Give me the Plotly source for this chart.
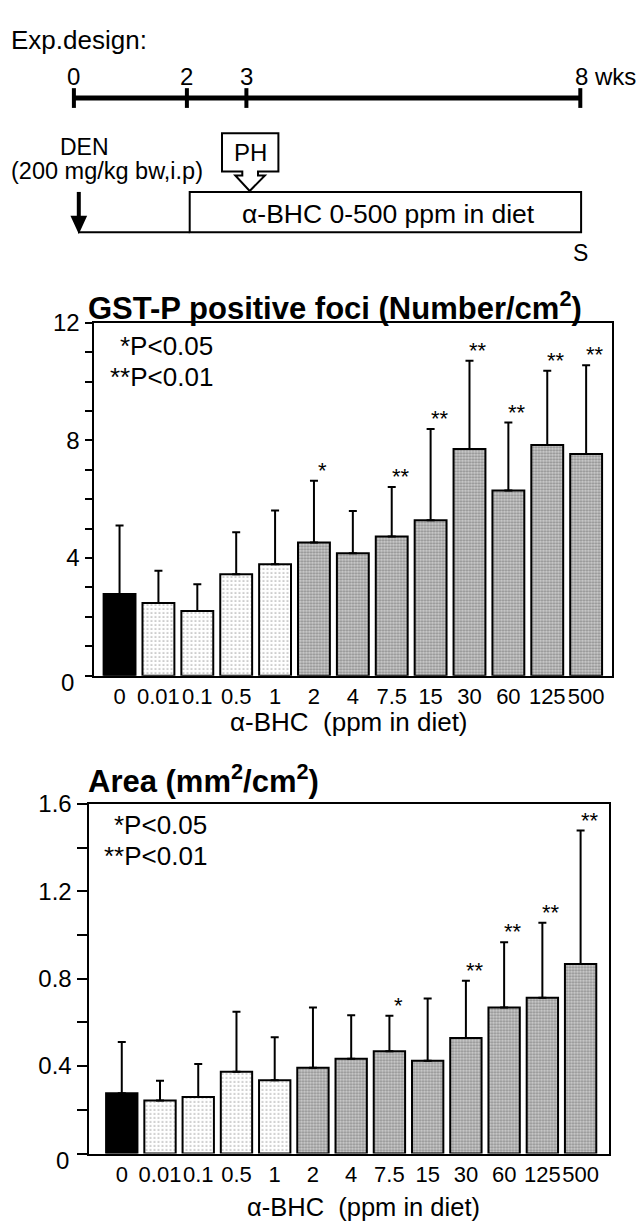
import plotly.graph_objects as go

W, H = 644, 1223

# ---------------- data ----------------
categories = ["0", "0.01", "0.1", "0.5", "1", "2", "4", "7.5", "15", "30", "60", "125", "500"]
dose_group = ["control", "low", "low", "low", "low",
              "high", "high", "high", "high", "high", "high", "high", "high"]

foci_mean = [2.78, 2.47, 2.20, 3.45, 3.79, 4.53, 4.16, 4.73, 5.29, 7.71, 6.30, 7.85, 7.54]
foci_sd = [2.33, 1.10, 0.91, 1.43, 1.83, 2.10, 1.44, 1.69, 3.10, 3.00, 2.31, 2.52, 3.02]
foci_sig = ["", "", "", "", "", "*", "", "**", "**", "**", "**", "**", "**"]

area_mean = [0.276, 0.242, 0.258, 0.374, 0.335, 0.392, 0.434, 0.468, 0.425, 0.528, 0.668, 0.713, 0.867]
area_sd = [0.234, 0.091, 0.152, 0.275, 0.197, 0.276, 0.199, 0.162, 0.284, 0.263, 0.299, 0.343, 0.611]
area_sig = ["", "", "", "", "", "", "", "*", "", "**", "**", "**", "**"]

foci_yticks = [4, 8, 12]
foci_yticktext = ["4", "8", "12"]
area_yticks = [0.4, 0.8, 1.2, 1.6]
area_yticktext = ["0.4", "0.8", "1.2", "1.6"]

timeline_labels = ["0", "2", "3", "8"]

# ---------------- helpers / styles ----------------
FONT = "Liberation Sans, Arial, sans-serif"


def px(x):
    return x / W


def py(y):
    return 1 - y / H


group_style = {
    "control": dict(color="black", shape="", size=4, solidity=0.2),
    "low": dict(color="white", shape=".", size=4, solidity=0.15),
    "high": dict(color="#d0d0d0", shape=".", size=3, solidity=0.45),
}


def bar_trace(mean, sd, xa, ya):
    st = [group_style[g] for g in dose_group]
    return go.Bar(
        x=categories, y=mean, xaxis=xa, yaxis=ya, width=0.82,
        marker=dict(
            color=[s["color"] for s in st],
            line=dict(color="black", width=2),
            pattern=dict(shape=[s["shape"] for s in st],
                         size=[s["size"] for s in st],
                         solidity=[s["solidity"] for s in st],
                         fgcolor="black", fillmode="overlay"),
        ),
        error_y=dict(type="data", array=sd, arrayminus=[0] * len(sd), symmetric=False,
                     color="black", thickness=2, width=4),
        hoverinfo="skip", showlegend=False,
    )


fig = go.Figure()
fig.add_trace(bar_trace(foci_mean, foci_sd, "x", "y"))
fig.add_trace(bar_trace(area_mean, area_sd, "x2", "y2"))

axis_common = dict(showline=True, linecolor="black", linewidth=2, mirror=True,
                   showgrid=False, zeroline=False,
                   tickfont=dict(family=FONT, size=24, color="black"))
xtickfont = dict(family=FONT, size=22, color="black")

fig.update_layout(
    width=W, height=H, margin=dict(l=0, r=0, t=0, b=0, pad=0),
    paper_bgcolor="white", plot_bgcolor="white", barmode="overlay",
    font=dict(family=FONT, color="black"),
    xaxis=dict(domain=[px(93.5), px(611.8)], anchor="y", type="category",
               range=[-0.67, 12.66], ticks="", tickangle=0,
               **{**axis_common, "tickfont": xtickfont}),
    yaxis=dict(domain=[py(669.3), py(312.5)], anchor="x", range=[0, 12],
               tickmode="array", tickvals=foci_yticks, ticktext=foci_yticktext,
               ticks="outside", ticklen=7, tickwidth=2, tickcolor="black",
               minor=dict(dtick=1, tick0=0, ticks="outside", ticklen=7, tickwidth=2,
                          tickcolor="black"),
               **axis_common),
    xaxis2=dict(domain=[px(88.5), px(608.9)], anchor="y2", type="category",
                range=[-0.87, 12.74], ticks="", tickangle=0,
                **{**axis_common, "tickfont": xtickfont}),
    yaxis2=dict(domain=[py(1152.7), py(799)], anchor="x2", range=[0, 1.6],
                tickmode="array", tickvals=area_yticks, ticktext=area_yticktext,
                ticks="outside", ticklen=10, tickwidth=2, tickcolor="black",
                minor=dict(dtick=0.2, tick0=0, ticks="outside", ticklen=10, tickwidth=2,
                           tickcolor="black"),
                **axis_common),
)

ann = []


def text(x, y, s, size, xanchor="center", bold=False, yanchor="middle"):
    ann.append(dict(x=px(x), y=py(y), xref="paper", yref="paper", text=s, showarrow=False,
                    xanchor=xanchor, yanchor=yanchor,
                    font=dict(family=FONT, size=size, color="black",
                              weight="bold" if bold else "normal")))


# significance stars (x given as category index)
for mean, sd, sig, xa, ya in [(foci_mean, foci_sd, foci_sig, "x", "y"),
                              (area_mean, area_sd, area_sig, "x2", "y2")]:
    for i, (m, s, g) in enumerate(zip(mean, sd, sig)):
        if g:
            ann.append(dict(x=i, y=m + s, xref=xa, yref=ya, text=g, showarrow=False,
                            xanchor="center", yanchor="bottom", xshift=9, yshift=-4,
                            font=dict(family=FONT, size=22, color="black")))

# titles
text(86, 295, "GST-P positive foci (Number/cm<sup>2</sup>)", 31, xanchor="left", bold=True)
text(86, 774, "Area (mm<sup>2</sup>/cm<sup>2</sup>)", 31, xanchor="left", bold=True)

# x axis titles
text(349, 716, "α-BHC  (ppm in diet)", 26)
text(363, 1207, "α-BHC  (ppm in diet)", 25.5)

# zero labels of the y axes
text(67, 676, "0", 24)
text(62.5, 1160, "0", 24)

# p-value keys
text(215, 336, "*P<0.05", 26, xanchor="right")
text(215, 367, "**P<0.01", 26, xanchor="right")
text(209, 820, "*P<0.05", 26, xanchor="right")
text(209, 852, "**P<0.01", 26, xanchor="right")

# ---------------- experimental design schematic ----------------
shapes = []
tl_x = [73.9, 186.9, 246.4, 580.3]
tl_y = 85


def line(x0, y0, x1, y1, w):
    shapes.append(dict(type="line", xref="paper", yref="paper",
                       x0=px(x0), y0=py(y0), x1=px(x1), y1=py(y1),
                       line=dict(color="black", width=w)))


def path(points, fill):
    d = "M " + " L ".join(f"{px(a):.5f},{py(b):.5f}" for a, b in points) + " Z"
    shapes.append(dict(type="path", xref="paper", yref="paper", path=d,
                       fillcolor=fill, line=dict(color="black", width=2)))


line(tl_x[0], tl_y, tl_x[-1], tl_y, 5)
for xx in tl_x:
    line(xx, 75, xx, 95, 4)
for xx, lab in zip(tl_x[:-1], timeline_labels[:-1]):
    text(xx, 63, lab, 24)
text(tl_x[-1] - 7, 63, timeline_labels[-1] + " wks", 24, xanchor="left")

text(9, 26, "Exp.design:", 26, xanchor="left")
text(84, 135, "DEN", 23)
text(107, 159, "(200 mg/kg bw,i.p)", 23.5)

# DEN arrow
line(78.8, 180, 78.8, 207, 4)
path([(72, 205), (85.6, 205), (78.8, 220)], "black")
# baseline and diet box
line(78, 220.7, 189.7, 220.7, 2)
shapes.append(dict(type="rect", xref="paper", yref="paper",
                   x0=px(189.7), x1=px(581.1), y0=py(220.7), y1=py(180),
                   line=dict(color="black", width=2), fillcolor="rgba(0,0,0,0)"))
text(388, 202, "α-BHC 0-500 ppm in diet", 26.5)

# PH callout arrow
path([(222, 120.7), (278.4, 120.7), (278.4, 159.3), (258, 159.3), (258, 163.3),
      (264.9, 163.3), (249.7, 179), (235.3, 163.3), (242.3, 163.3), (242.3, 159.3),
      (222, 159.3)], "white")
text(250, 140, "PH", 24)
text(580, 242, "S", 23)

fig.update_layout(annotations=ann, shapes=shapes)
fig.write_html("out.html", config={"displayModeBar": False},
               post_script="document.body.style.margin='0';document.body.style.overflow='hidden';")
